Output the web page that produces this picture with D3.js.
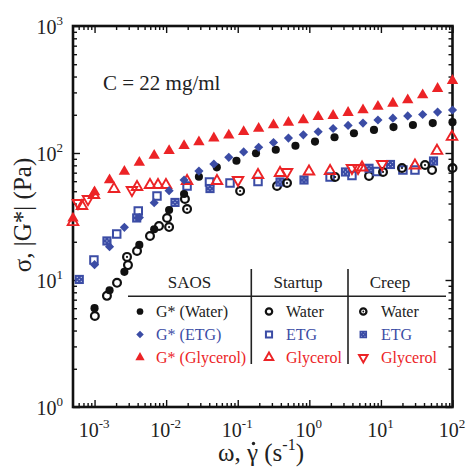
<!DOCTYPE html>
<html>
<head>
<meta charset="utf-8">
<script src="https://cdn.jsdelivr.net/npm/d3@7"></script>
<style>
  html, body { margin: 0; padding: 0; background: #fff; }
  svg { display: block; }
  text { font-family: "Liberation Serif", "Times New Roman", serif; }
</style>
</head>
<body>
<svg id="chart" width="468" height="469"></svg>
<script>
// ---- SAOS frequency sweeps: omega (rad/s) and |G*| (Pa) ----
const saosOmega = [0.001, 0.00162, 0.00261, 0.00422, 0.00681, 0.0110, 0.0178, 0.0287, 0.0464, 0.0750,
  0.121, 0.196, 0.316, 0.511, 0.825, 1.33, 2.15, 3.48, 5.62, 9.09, 14.7, 23.7, 38.3, 61.9, 100];
const saosGlyOmega = [0.0005, 0.001, 0.00162, 0.00261, 0.00422, 0.00681, 0.0110, 0.0178, 0.0287, 0.0464, 0.0750,
  0.121, 0.196, 0.316, 0.511, 0.825, 1.33, 2.15, 3.48, 5.62, 9.09, 14.7, 23.7, 38.3, 61.9, 100];
const saosWaterOmega = [0.001, 0.00162, 0.00261, 0.00422, 0.00681, 0.0110, 0.0178, 0.0287, 0.051, 0.096,
  0.18, 0.34, 0.64, 1.2, 2.25, 4.2, 8.0, 15, 28, 53, 100];

const saosWaterG = [6.0, 8.3, 11.6, 18.9, 25.1, 35.6, 47.6, 65.0, 77.1, 86.9, 99.5, 106, 114, 123, 133,
  143, 152, 160, 166, 172, 175];
const saosEtgG = [13.2, 18.3, 26.0, 31.0, 40.6, 50.5, 61.3, 72.1, 81.9, 92.5, 102, 111, 121, 131, 139,
  147, 156, 165, 172, 182, 188, 196, 201, 210, 218];
const saosGlyG = [30.6, 49.3, 61.3, 71.5, 84.1, 95.5, 104, 114, 122, 131, 138, 147, 156, 166, 174,
  182, 193, 197, 208, 218, 232, 246, 261, 286, 321, 371];

// ---- Startup of steady shear: shear rate (1/s) and steady stress (Pa) ----
const startupWaterRate = [0.00101, 0.00149, 0.00206, 0.00293, 0.00392, 0.00595, 0.00795, 0.0103, 0.0183, 0.354, 6.82, 51.8];
const startupWaterStress = [5.2, 7.5, 9.5, 13.1, 16.9, 22.2, 26.6, 30.8, 43.4, 55.0, 65.9, 73.5];
const startupEtgRate = [0.00098, 0.00204, 0.00408, 0.00745, 0.0196, 0.0403, 0.078, 0.192, 1.95, 3.94, 8.81, 20.3, 29.9];
const startupEtgStress = [14.4, 23.0, 34.9, 45.9, 55.0, 59.1, 58.0, 59.7, 64.7, 66.5, 71.5, 73.5, 73.5];
const startupGlyRate = [0.0005, 0.000668, 0.00098, 0.00187, 0.00392, 0.00595, 0.0077, 0.00995, 0.0196, 0.0513,
  0.192, 0.390, 0.99, 1.95, 5.45, 29.9, 60.7, 98.4];
const startupGlyStress = [28.6, 38.3, 46.7, 52.1, 54.0, 56.0, 56.0, 56.0, 60.2, 60.2, 67.1, 69.6, 71.5, 72.1, 76.9, 79.7, 104, 134];

// ---- Creep: shear rate (1/s) and applied stress (Pa) ----
const creepWaterRate = [0.00284, 0.0110, 0.0196, 0.108, 0.488, 2.29, 10.7, 19.7, 41.3, 100];
const creepWaterStress = [15.2, 26.1, 36.2, 50.2, 58.0, 64.7, 70.9, 76.2, 80.4, 76.2];
const creepEtgRate = [0.000612, 0.00149, 0.00388, 0.0133, 0.041, 0.390, 0.843, 3.20, 6.82, 13.6, 54.3];
const creepEtgStress = [10.1, 20.3, 30.8, 40.8, 52.5, 59.1, 61.3, 70.9, 75.8, 81.2, 86.5];
const creepGlyRate = [0.000587, 0.00081, 0.00333, 0.101, 0.488, 3.94, 4.79, 10.4];
const creepGlyStress = [40.4, 43.4, 51.1, 61.3, 70.9, 76.2, 76.2, 81.9];

// ---- axis ticks ----
const xMajors = [0.001, 0.01, 0.1, 1, 10, 100];
const xExponents = ["-3", "-2", "-1", "0", "1", "2"];
const yMajors = [1, 10, 100, 1000];
const yExponents = ["0", "1", "2", "3"];

// ---- legend text ----
const legendHeaders = ["SAOS", "Startup", "Creep"];
const saosLabels = ["G* (Water)", "G* (ETG)", "G* (Glycerol)"];
const fluidLabels = ["Water", "ETG", "Glycerol"];

const BLACK = "#111", BLUE = "#3b4ca5", RED = "#ec2326";

const svg = d3.select("#chart");
const plotLeft = 73, plotRight = 452.5, plotTop = 26, plotBottom = 407;

const x = d3.scaleLog().domain([5e-4, 100]).range([plotLeft, plotRight]);
const y = d3.scaleLog().domain([1, 1000]).range([plotBottom, plotTop]);

// minor tick positions
const xMinors = [];
[1e-4, 1e-3, 1e-2, 1e-1, 1, 10].forEach(dec => {
  for (let m = 2; m <= 9; m++) {
    const v = m * dec;
    if (v > 5e-4 * 1.0001 && v < 100) xMinors.push(v);
  }
});
const yMinors = [];
[1, 10, 100].forEach(dec => { for (let m = 2; m <= 9; m++) yMinors.push(m * dec); });

function styleTicks(g) {
  g.select(".domain").remove();
  g.selectAll(".tick line").attr("stroke", "#111").attr("stroke-width", 1.4);
}

// bottom
const gxMinor = svg.append("g").attr("transform", `translate(0,${plotBottom})`)
  .call(d3.axisBottom(x).tickValues(xMinors).tickSize(-4).tickFormat(() => ""));
styleTicks(gxMinor);
const gx = svg.append("g").attr("transform", `translate(0,${plotBottom})`)
  .call(d3.axisBottom(x).tickValues(xMajors).tickSize(-7).tickFormat(() => ""));
styleTicks(gx);
gx.selectAll(".tick text")
  .attr("y", 29.5).attr("dy", 0).attr("x", -1)
  .attr("font-size", 20).attr("fill", "#222")
  .attr("font-family", "Liberation Serif, serif")
  .each(function (d, i) {
    const t = d3.select(this);
    t.text(null);
    t.append("tspan").text("10");
    t.append("tspan").attr("font-size", 13).attr("dy", -9).text(xExponents[i]);
  });

// top
const gtMinor = svg.append("g").attr("transform", `translate(0,${plotTop})`)
  .call(d3.axisTop(x).tickValues(xMinors).tickSize(-4).tickFormat(() => ""));
styleTicks(gtMinor);
const gt = svg.append("g").attr("transform", `translate(0,${plotTop})`)
  .call(d3.axisTop(x).tickValues(xMajors).tickSize(-7).tickFormat(() => ""));
styleTicks(gt);

// left
const gyMinor = svg.append("g").attr("transform", `translate(${plotLeft},0)`)
  .call(d3.axisLeft(y).tickValues(yMinors).tickSize(-4).tickFormat(() => ""));
styleTicks(gyMinor);
const gy = svg.append("g").attr("transform", `translate(${plotLeft},0)`)
  .call(d3.axisLeft(y).tickValues(yMajors).tickSize(-7).tickFormat(() => ""));
styleTicks(gy);
gy.selectAll(".tick text")
  .attr("x", -10).attr("y", 7).attr("dy", 0)
  .attr("font-size", 20).attr("fill", "#222")
  .attr("font-family", "Liberation Serif, serif")
  .attr("text-anchor", "end")
  .each(function (d, i) {
    const t = d3.select(this);
    t.text(null);
    t.append("tspan").text("10");
    t.append("tspan").attr("font-size", 13).attr("dy", -9).text(yExponents[i]);
  });

// right
const grMinor = svg.append("g").attr("transform", `translate(${plotRight},0)`)
  .call(d3.axisRight(y).tickValues(yMinors).tickSize(-4).tickFormat(() => ""));
styleTicks(grMinor);
const gr = svg.append("g").attr("transform", `translate(${plotRight},0)`)
  .call(d3.axisRight(y).tickValues(yMajors).tickSize(-7).tickFormat(() => ""));
styleTicks(gr);

// frame
svg.append("rect")
  .attr("x", plotLeft).attr("y", plotTop)
  .attr("width", plotRight - plotLeft).attr("height", plotBottom - plotTop)
  .attr("fill", "none").attr("stroke", "#111").attr("stroke-width", 2.6);

// ---- marker glyphs ----
const sym = (type, size) => d3.symbol().type(type).size(size)();
const markers = {
  dot: (g, c, s) => g.append("path").attr("d", sym(d3.symbolCircle, 52 * s * s)).attr("fill", c),
  diamond: (g, c, s) => g.append("path").attr("d", sym(d3.symbolSquare, 42 * s * s))
    .attr("transform", "rotate(45)").attr("fill", c),
  tri: (g, c, s) => g.append("path").attr("d", sym(d3.symbolTriangle, 56 * s * s)).attr("fill", c),
  ring: (g, c, s) => g.append("circle").attr("r", 3.9 * s).attr("fill", "none")
    .attr("stroke", c).attr("stroke-width", 2.2),
  ringDot: (g, c, s) => {
    g.append("circle").attr("r", 3.9 * s).attr("fill", "none").attr("stroke", c).attr("stroke-width", 2.2);
    g.append("circle").attr("r", 1.1 * s).attr("fill", c);
  },
  box: (g, c, s) => g.append("path").attr("d", sym(d3.symbolSquare, 56 * s * s))
    .attr("fill", "none").attr("stroke", c).attr("stroke-width", 2),
  boxDot: (g, c, s) => {
    g.append("path").attr("d", sym(d3.symbolSquare, 84 * s * s)).attr("fill", c);
    [[-2, -2], [2, -2], [-2, 2], [2, 2], [0, 0]].forEach(([dx, dy]) =>
      g.append("circle").attr("cx", dx * s).attr("cy", dy * s).attr("r", 0.6 * s).attr("fill", "#c3cbee"));
  },
  triOpen: (g, c, s) => g.append("path").attr("d", sym(d3.symbolTriangle, 48 * s * s))
    .attr("fill", "none").attr("stroke", c).attr("stroke-width", 1.9),
  triDown: (g, c, s) => g.append("path").attr("d", sym(d3.symbolTriangle, 48 * s * s))
    .attr("transform", "rotate(180)")
    .attr("fill", "none").attr("stroke", c).attr("stroke-width", 1.9)
};

function plotSeries(xs, ys, kind, color) {
  const pts = d3.zip(xs, ys);
  svg.append("g").selectAll("g").data(pts).join("g")
    .attr("transform", d => `translate(${x(d[0])},${y(d[1])})`)
    .each(function () { markers[kind](d3.select(this), color, 1); });
}

plotSeries(startupWaterRate, startupWaterStress, "ring", BLACK);
plotSeries(startupEtgRate, startupEtgStress, "box", BLUE);
plotSeries(creepEtgRate, creepEtgStress, "boxDot", BLUE);
plotSeries(creepWaterRate, creepWaterStress, "ringDot", BLACK);
plotSeries(startupGlyRate, startupGlyStress, "triOpen", RED);
plotSeries(creepGlyRate, creepGlyStress, "triDown", RED);
plotSeries(saosWaterOmega, saosWaterG, "dot", BLACK);
plotSeries(saosOmega, saosEtgG, "diamond", BLUE);
plotSeries(saosGlyOmega, saosGlyG, "tri", RED);

// ---- annotation ----
svg.append("text").attr("x", 103).attr("y", 90)
  .attr("font-size", 21).attr("fill", "#222").text("C = 22 mg/ml");

// ---- axis titles ----
svg.append("text")
  .attr("transform", "translate(31,215) rotate(-90)")
  .attr("text-anchor", "middle").attr("font-size", 25).attr("fill", "#222")
  .text("σ, |G*| (Pa)");

const xtBase = 461;
const xt = svg.append("text")
  .attr("x", 261).attr("y", xtBase)
  .attr("text-anchor", "middle").attr("font-size", 25).attr("fill", "#222");
xt.append("tspan").text("ω, γ (s");
xt.append("tspan").attr("font-size", 16).attr("dy", -11).text("-1");
xt.append("tspan").attr("dy", 11).text(")");
// dot above gamma
const gExt = xt.node().getExtentOfChar(3);
svg.append("circle")
  .attr("cx", gExt.x + gExt.width / 2 + 1)
  .attr("cy", xtBase - 25 * 0.7)
  .attr("r", 1.7).attr("fill", "#222");

// ---- legend table ----
const lg = svg.append("g");
lg.append("line").attr("x1", 128).attr("x2", 446).attr("y1", 296.3).attr("y2", 296.3)
  .attr("stroke", "#222").attr("stroke-width", 1.6);
[251.3, 348].forEach(xx => lg.append("line").attr("x1", xx).attr("x2", xx)
  .attr("y1", 269).attr("y2", 364).attr("stroke", "#222").attr("stroke-width", 1.6));

const headerX = [189.5, 298, 390];
legendHeaders.forEach((h, i) => lg.append("text")
  .attr("x", headerX[i]).attr("y", 288).attr("text-anchor", "middle")
  .attr("font-size", 17).attr("fill", "#222").text(h));

const rowY = [311.5, 334.5, 357.5];
const rowColors = [BLACK, BLUE, RED];
const textColors = ["#222", BLUE, RED];
const colMarkers = [["dot", "diamond", "tri"], ["ring", "box", "triOpen"], ["ringDot", "boxDot", "triDown"]];
const colMarkerX = [140, 269, 363.3];
const colTextX = [156, 286, 381];
const colLabels = [saosLabels, fluidLabels, fluidLabels];

colMarkers.forEach((kinds, ci) => {
  kinds.forEach((kind, ri) => {
    const g = lg.append("g").attr("transform", `translate(${colMarkerX[ci]},${rowY[ri]})`);
    markers[kind](g, rowColors[ri], 0.82);
    lg.append("text").attr("x", colTextX[ci]).attr("y", rowY[ri] + 5.6)
      .attr("font-size", 16).attr("fill", textColors[ri]).text(colLabels[ci][ri]);
  });
});
</script>
</body>
</html>
